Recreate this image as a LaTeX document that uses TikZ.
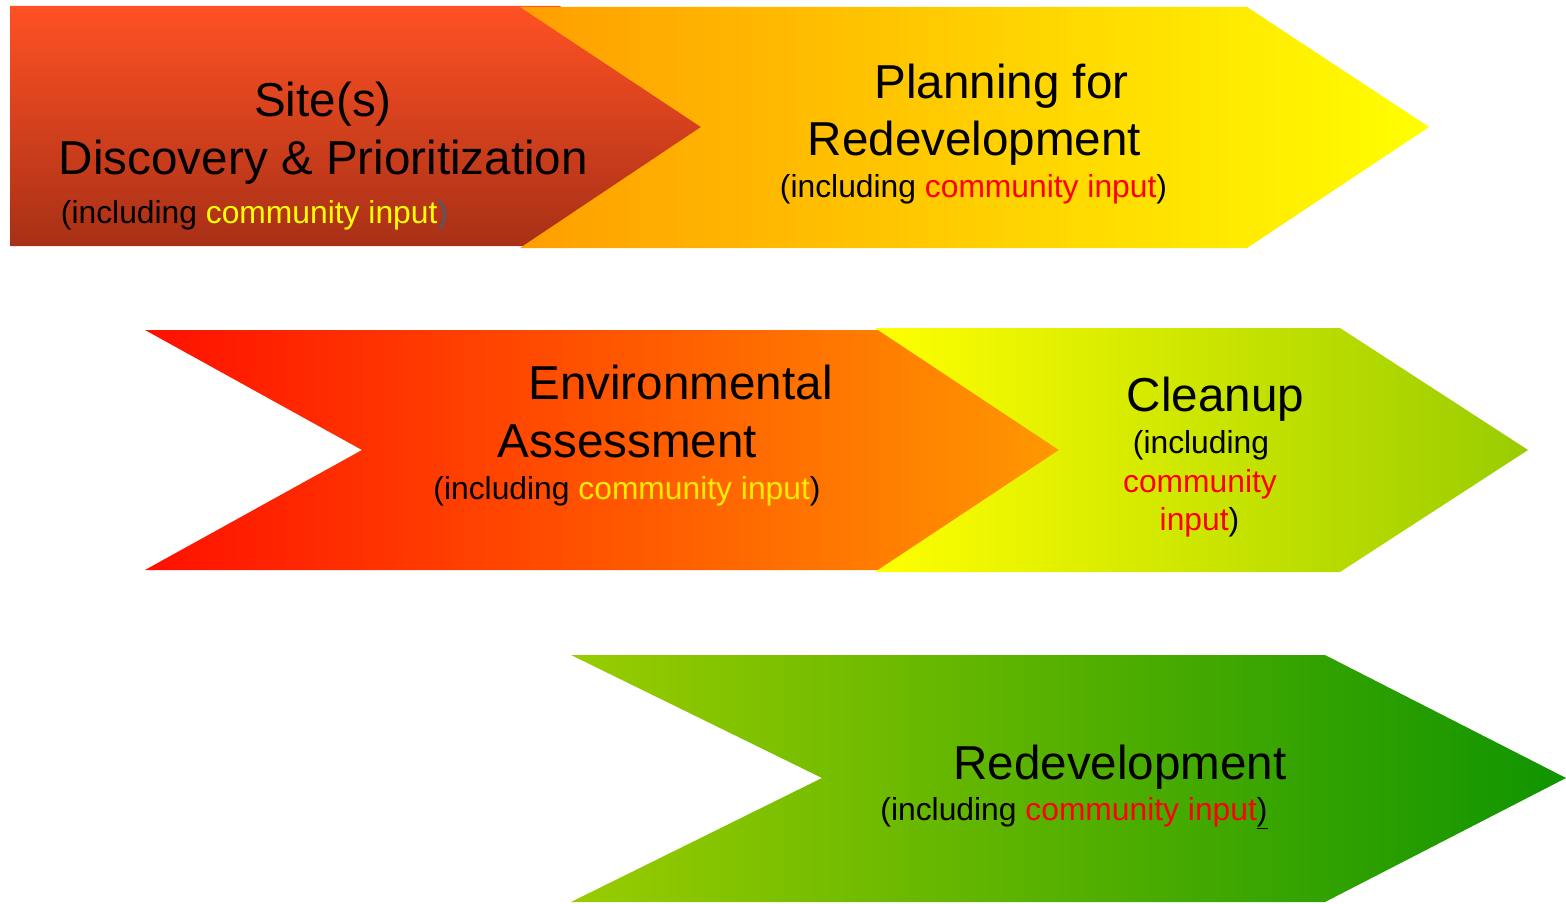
\documentclass[tikz,border=0pt]{standalone}
\usepackage{fontspec}
\setmainfont{Liberation Sans}
\definecolor{aAt}{RGB}{255,81,36}
\definecolor{aAb}{RGB}{168,48,22}
\definecolor{aBl}{RGB}{255,158,0}
\definecolor{aBr}{RGB}{255,255,0}
\definecolor{aCl}{RGB}{255,16,0}
\definecolor{aCr}{RGB}{255,153,0}
\definecolor{aDl}{RGB}{255,255,0}
\definecolor{aDr}{RGB}{153,204,0}
\definecolor{aEl}{RGB}{153,204,0}
\definecolor{aEm}{RGB}{100,180,0}
\definecolor{aEr}{RGB}{16,148,0}
\definecolor{ciyel}{RGB}{255,255,0}
\definecolor{ciyelB}{RGB}{255,236,0}
\definecolor{cired}{RGB}{255,0,0}
\definecolor{pgray}{RGB}{80,90,106}
\begin{document}
\begin{tikzpicture}[x=1pt,y=-1pt,
  big/.style={font=\fontsize{47.6}{57}\selectfont, anchor=base, inner sep=0pt},
  small/.style={font=\fontsize{31.8}{38}\selectfont, anchor=base, inner sep=0pt}]
\useasboundingbox (0,0) rectangle (1566,904);
% arrow 1
\shade[top color=aAt, bottom color=aAb] (10,6) -- (560,6) -- (705,127) -- (560,246) -- (10,246) -- cycle;
% arrow 2
\shade[left color=aBl, right color=aBr] (520,7) -- (1247,7) -- (1429,127) -- (1247,248) -- (520,248) -- (701,127) -- cycle;
% arrow 3
\shade[left color=aCl, right color=aCr] (145,330) -- (879,330) -- (1064,450) -- (879,570) -- (145,570) -- (362,450) -- cycle;
% arrow 4
\shade[left color=aDl, right color=aDr] (875,328) -- (1340,328) -- (1528,450) -- (1340,572) -- (875,572) -- (1059,450) -- cycle;
% arrow 5
\shade[left color=aEl, middle color=aEm, right color=aEr] (571,655) -- (1325,655) -- (1566,778) -- (1325,902) -- (571,902) -- (822,778) -- cycle;

% texts arrow 1
\node[big] (t1a) at (323,117) {Site(s)};
\node[big] (t1b) at (323.5,175) {Discovery \& Prioritization};
\node[small] (t1c) at (254.5,224) {(including \textcolor{ciyel}{community input}\textcolor{pgray}{)}};
% arrow 2
\node[big] (t2a) at (1001.5,99) {Planning for};
\node[big] (t2b) at (974.5,156) {Redevelopment};
\node[small] (t2c) at (973.5,198) {(including \textcolor{cired}{community input})};
% arrow 3
\node[big] (t3a) at (680.5,399) {Environmental};
\node[big] (t3b) at (627.5,457) {Assessment};
\node[small] (t3c) at (627,499) {(including \textcolor{ciyelB}{community input})};
% arrow 4
\node[big] (t4a) at (1215.5,411) {Cleanup};
\node[small] (t4b) at (1201,453) {(including};
\node[small] (t4c) at (1200,492) {\textcolor{cired}{community}};
\node[small] (t4d) at (1199.5,530) {\textcolor{cired}{input})};
% arrow 5
\node[big] (t5a) at (1120,779) {Redevelopment};
\node[small] (t5b) at (1074,820) {(including \textcolor{cired}{community input}\underline{)}};
\end{tikzpicture}
\end{document}
